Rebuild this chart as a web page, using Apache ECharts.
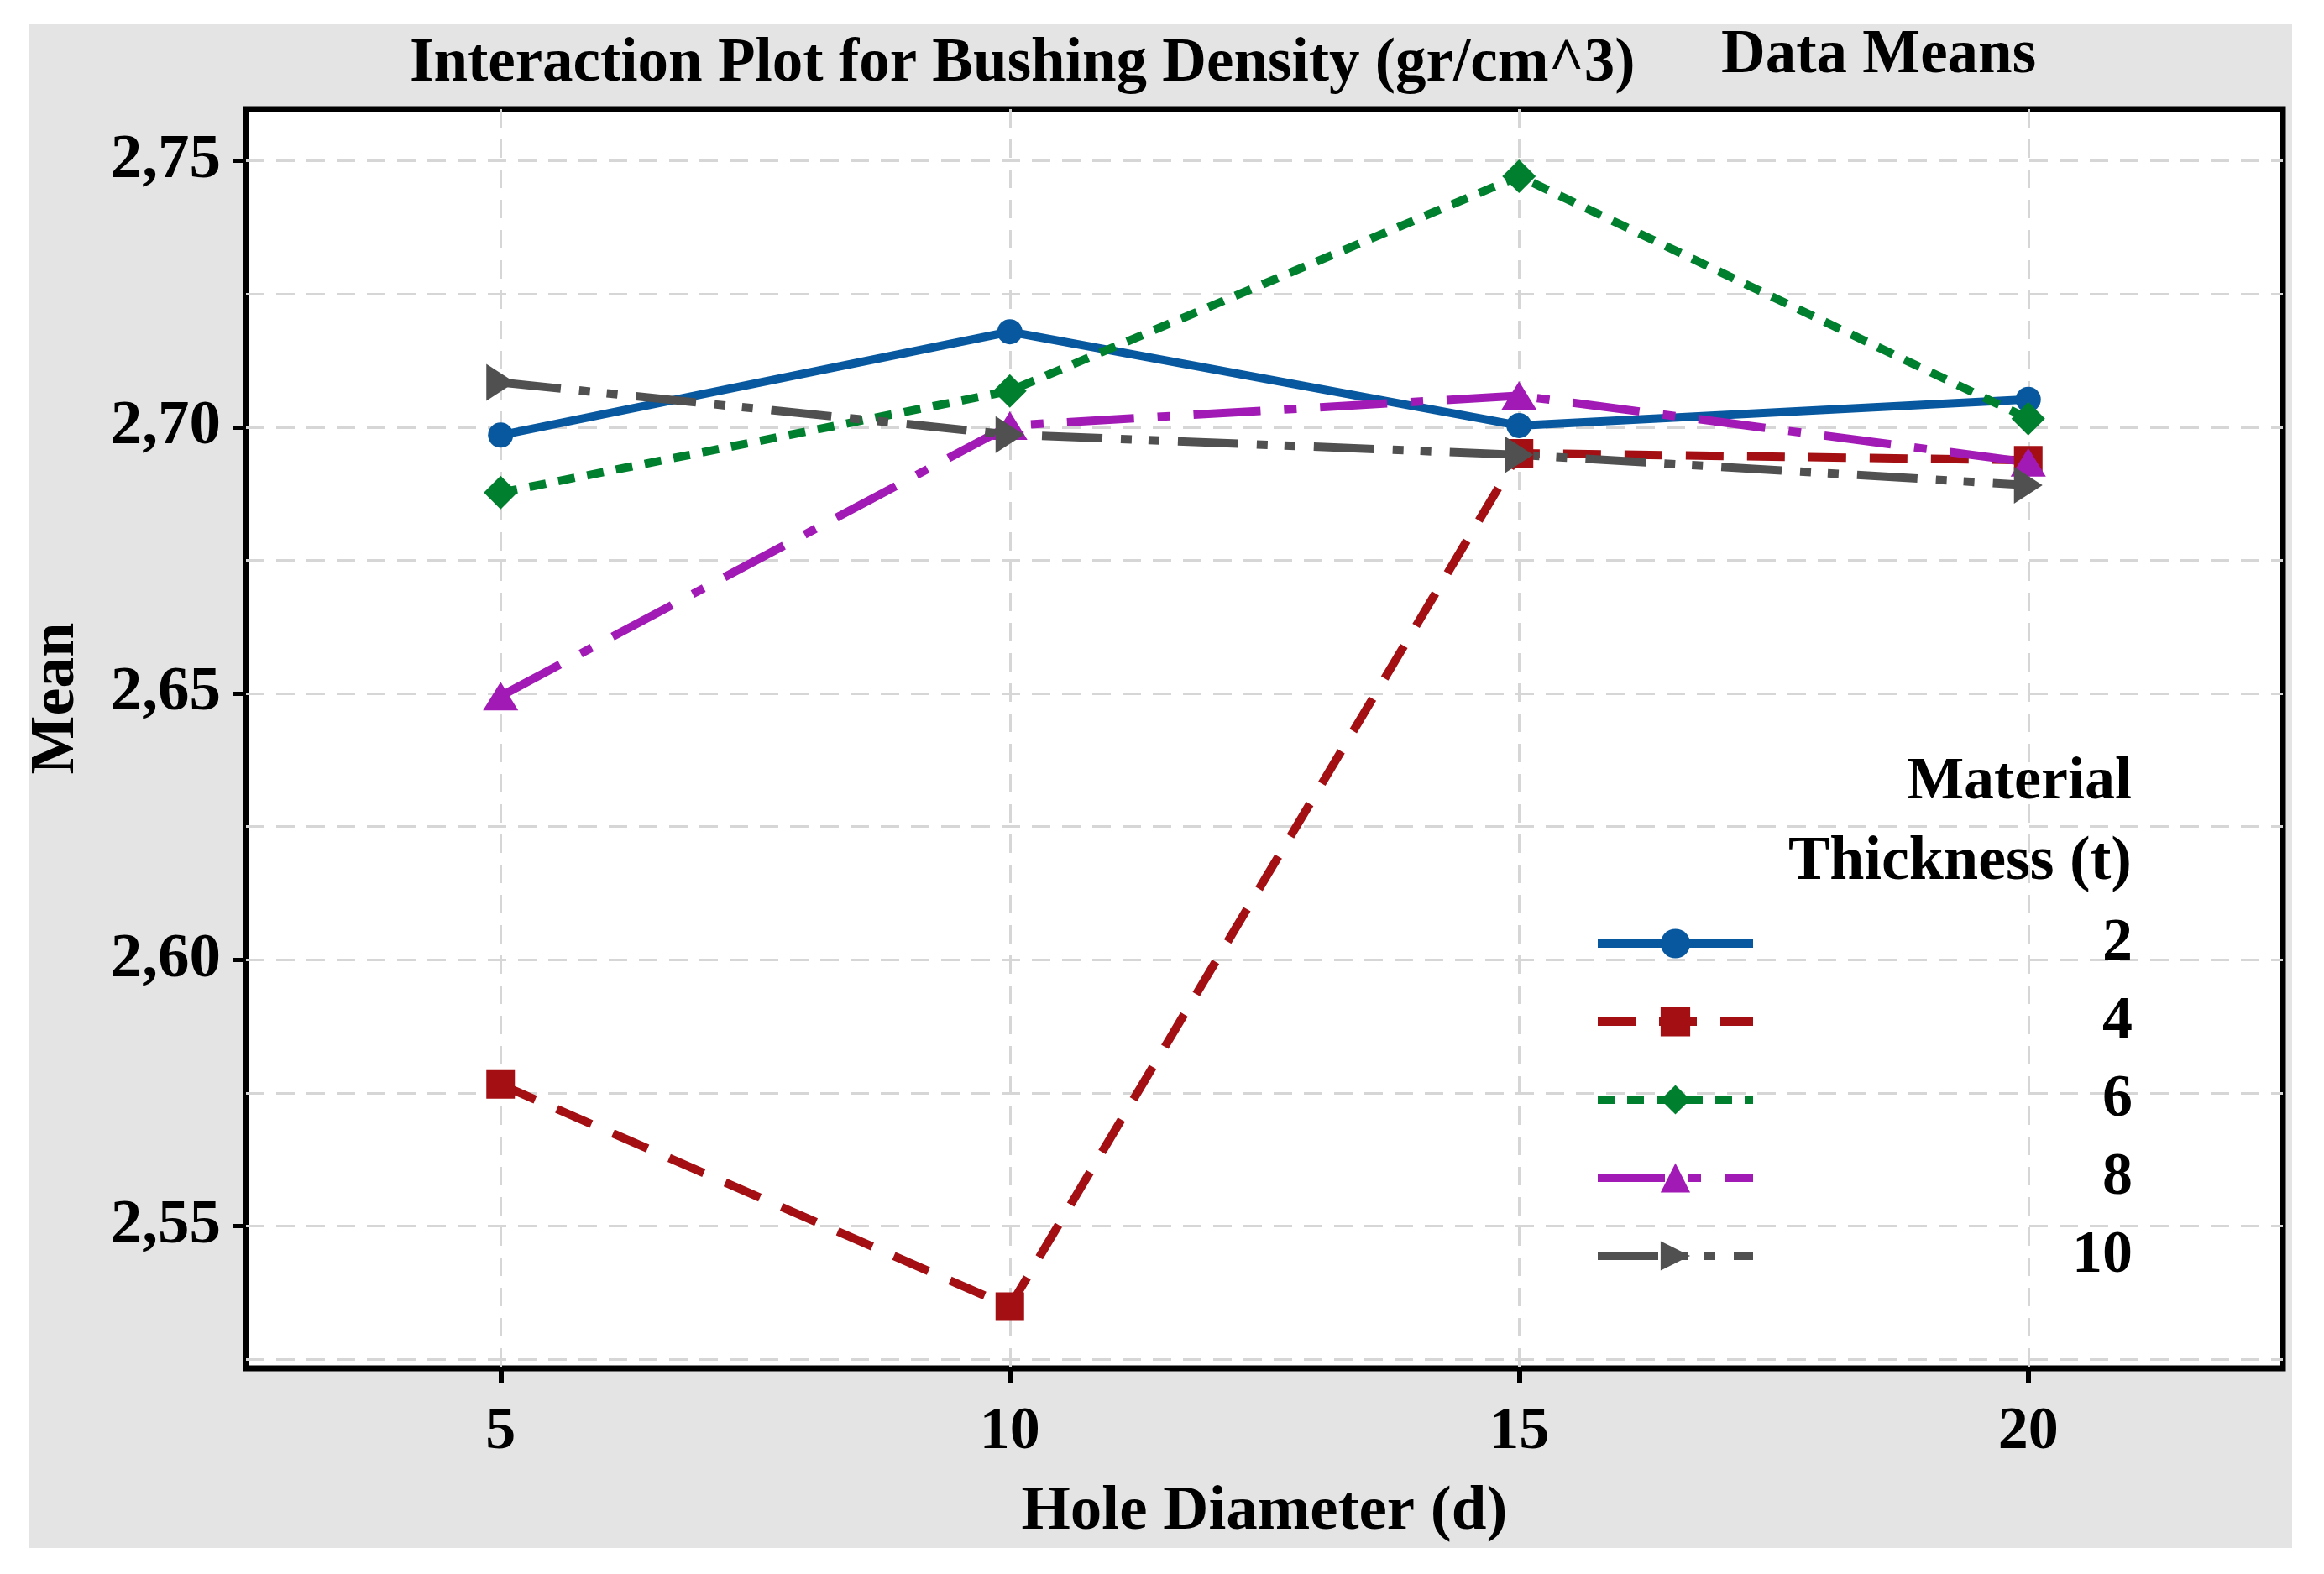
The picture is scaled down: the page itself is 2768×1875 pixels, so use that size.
<!DOCTYPE html>
<html>
<head>
<meta charset="utf-8">
<title>Interaction Plot for Bushing Density</title>
<script src="https://cdn.jsdelivr.net/npm/echarts@6/dist/echarts.min.js"></script>
<style>
  html, body { margin: 0; padding: 0; background: #fff; }
  #chart { position: absolute; left: 35px; top: 29px; width: 2695px; height: 1815px; }
</style>
</head>
<body>
<div id="chart"></div>
<script>
// hole diameter (d) on the x axis
var diameters = [5, 10, 15, 20];
// mean density for each material thickness (t)
var thick2  = [2.6985, 2.7179, 2.7003, 2.7052];
var thick4  = [2.5766, 2.5349, 2.6951, 2.6938];
var thick6  = [2.6877, 2.7068, 2.7471, 2.7016];
var thick8  = [2.6495, 2.7003, 2.7059, 2.6934];
var thick10 = [2.7084, 2.6986, 2.6948, 2.6891];
// labelled ticks and the finer dashed grid
var yTicks = [2.55, 2.60, 2.65, 2.70, 2.75];
var yGrid  = [2.525, 2.55, 2.575, 2.60, 2.625, 2.65, 2.675, 2.70, 2.725, 2.75];

(function () {
  var chartDom = document.getElementById('chart');
  var myChart = echarts.init(chartDom);
  var font = 'Liberation Serif';

  function pairs(vals) {
    return diameters.map(function (d, i) { return [d, vals[i]]; });
  }

  var gridLine = { show: true, lineStyle: { color: '#d6d6d6', width: 3, type: [22, 14] } };

  var series = [
    { name: '2',  data: thick2,  color: '#07589f', symbol: 'circle',   size: 30,       rotate: 0,   dash: 'solid' },
    { name: '4',  data: thick4,  color: '#a30f12', symbol: 'rect',     size: 34,       rotate: 0,   dash: [45, 28] },
    { name: '6',  data: thick6,  color: '#00802e', symbol: 'diamond',  size: [40, 40], rotate: 0,   dash: [20, 15] },
    { name: '8',  data: thick8,  color: '#a11ab5', symbol: 'triangle', size: [42, 34], rotate: 0,   dash: [80, 28, 15, 28] },
    { name: '10', data: thick10, color: '#505050', symbol: 'triangle', size: [44, 34], rotate: -90, dash: [72, 22, 13, 20, 13, 22] }
  ].map(function (s) {
    return {
      name: s.name,
      type: 'line',
      data: pairs(s.data),
      symbol: s.symbol,
      symbolSize: s.size,
      symbolRotate: s.rotate,
      showAllSymbol: true,
      itemStyle: { color: s.color },
      lineStyle: { color: s.color, width: 10, type: s.dash },
      emphasis: { disabled: true }
    };
  });

  var option = {
    backgroundColor: '#e4e4e4',
    animation: false,
    title: [
      {
        text: 'Interaction Plot for Bushing Density (gr/cm^3)',
        left: 453, top: 12, padding: 0,
        textStyle: { fontFamily: font, fontWeight: 'bold', fontSize: 73, color: '#000' }
      },
      {
        text: 'Data Means',
        left: 2015, top: 2, padding: 0,
        textStyle: { fontFamily: font, fontWeight: 'bold', fontSize: 73, color: '#000' }
      }
    ],
    grid: {
      left: 258, top: 101, right: 11, bottom: 213,
      show: true,
      backgroundColor: '#fff',
      borderColor: '#000',
      borderWidth: 7
    },
    legend: {
      orient: 'vertical',
      left: 1863, top: 1059,
      padding: 0,
      itemGap: 21,
      itemWidth: 185,
      itemHeight: 44,
      lineStyle: { width: 10 },
      selectedMode: false,
      formatter: function (name) { return '{n|' + name + '}'; },
      textStyle: {
        rich: {
          n: { width: 447, align: 'right', fontFamily: font, fontWeight: 'bold', fontSize: 72, color: '#000' }
        }
      },
      data: ['2', '4', '6', '8', '10']
    },
    xAxis: {
      type: 'value',
      min: 2.5, max: 22.5,
      name: 'Hole Diameter (d)',
      nameLocation: 'middle',
      nameGap: 134,
      nameTextStyle: { fontFamily: font, fontWeight: 'bold', fontSize: 75, color: '#000' },
      axisLine: { show: false },
      axisTick: { show: true, customValues: diameters, length: 18, lineStyle: { color: '#000', width: 6 } },
      axisLabel: {
        customValues: diameters, margin: 40,
        fontFamily: font, fontWeight: 'bold', fontSize: 72, color: '#000'
      },
      splitLine: gridLine
    },
    yAxis: [
      {
        type: 'value',
        min: 2.5233, max: 2.7597,
        axisLine: { show: false },
        axisTick: { show: true, customValues: yTicks, length: 16, lineStyle: { color: '#000', width: 5 } },
        axisLabel: {
          customValues: yTicks, margin: 30,
          fontFamily: font, fontWeight: 'bold', fontSize: 75, color: '#000',
          formatter: function (v) { return v.toFixed(2).replace('.', ','); }
        },
        splitLine: { show: false }
      },
      {
        type: 'value',
        position: 'left',
        min: 2.5233, max: 2.7597,
        axisLine: { show: false },
        axisTick: { show: false, customValues: yGrid },
        axisLabel: { show: false, customValues: yGrid },
        splitLine: gridLine
      }
    ],
    graphic: [
      {
        type: 'text', x: 33, y: 803, rotation: Math.PI / 2,
        style: { text: 'Mean', fontFamily: font, fontWeight: 'bold', fontSize: 74, fill: '#000', textAlign: 'center', textVerticalAlign: 'middle' }
      },
      {
        type: 'text', x: 2504, y: 903, z: 10,
        style: { text: 'Material', fontFamily: font, fontWeight: 'bold', fontSize: 72, fill: '#000', textAlign: 'right', textVerticalAlign: 'middle' }
      },
      {
        type: 'text', x: 2504, y: 999, z: 10,
        style: { text: 'Thickness (t)', fontFamily: font, fontWeight: 'bold', fontSize: 74, fill: '#000', textAlign: 'right', textVerticalAlign: 'middle' }
      }
    ],
    series: series
  };

  option && myChart.setOption(option);
  window.addEventListener('resize', function () { myChart.resize(); });
})();
</script>
</body>
</html>
